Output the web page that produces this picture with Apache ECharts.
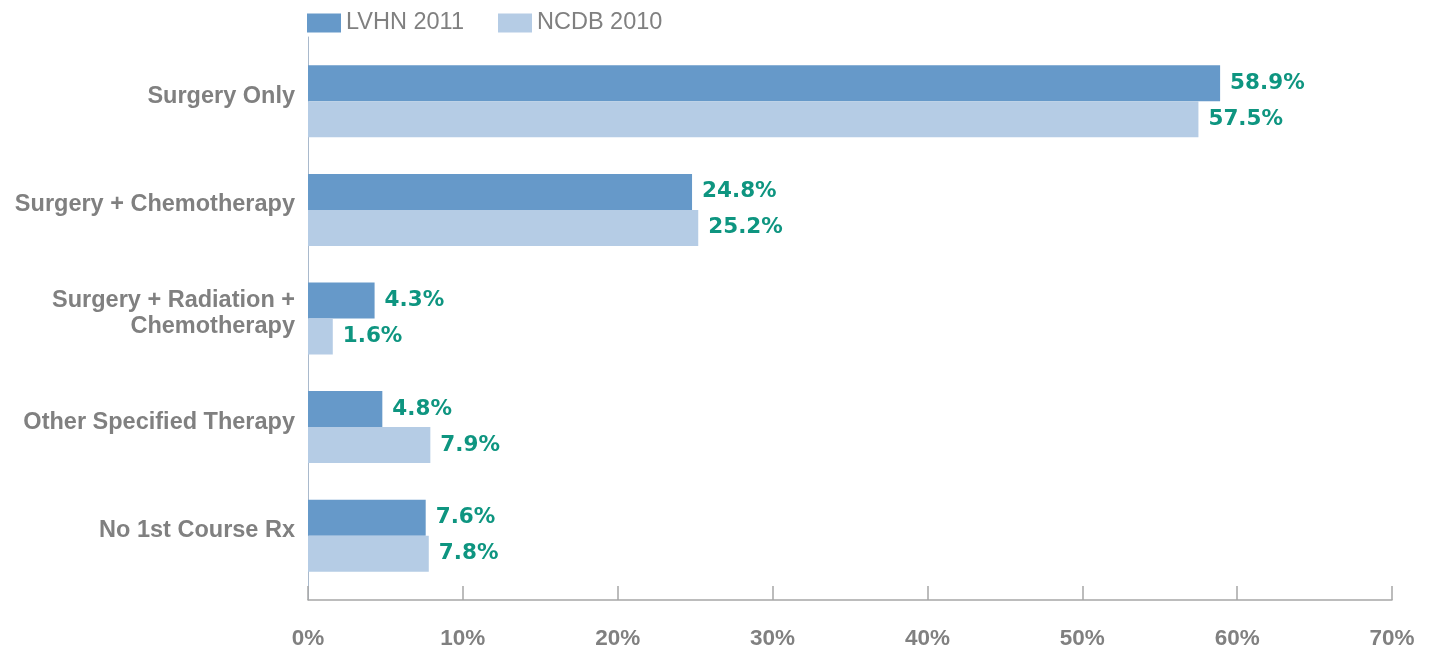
<!DOCTYPE html>
<html><head><meta charset="utf-8">
<script src="https://cdn.jsdelivr.net/npm/echarts@6/dist/echarts.min.js"></script>
<style>html,body{margin:0;padding:0;background:#fff}#c{width:1430px;height:651px}</style>
</head><body><div id="c"></div>
<script>
const categories = ['Surgery Only', 'Surgery + Chemotherapy', 'Surgery + Radiation +\nChemotherapy', 'Other Specified Therapy', 'No 1st Course Rx'];
const lvhn2011 = [58.9, 24.8, 4.3, 4.8, 7.6];
const ncdb2010 = [57.5, 25.2, 1.6, 7.9, 7.8];
const xTicks = [0, 10, 20, 30, 40, 50, 60, 70];

const FONT = '"Liberation Sans", Arial, sans-serif';
const chart = echarts.init(document.getElementById('c'));
const labelStyle = {
  show: true, position: 'right', distance: 10,
  formatter: p => p.value.toFixed(1) + '%',
  color: '#0e9580', fontFamily: '"DejaVu Sans", sans-serif', fontWeight: 'bold', fontSize: 21.5
};
chart.setOption({
  animation: false,
  legend: {
    left: 307, top: 11, padding: 0, itemWidth: 34, itemHeight: 19, itemGap: 34,
    icon: 'rect',
    textStyle: { color: '#808080', fontFamily: FONT, fontSize: 23.5 },
    data: ['LVHN 2011', 'NCDB 2010']
  },
  grid: [
    { left: 308, width: 1084, top: 47, height: 543 },
    { left: 308, width: 1084, top: 37, height: 563 },
    { left: 308, width: 1084, top: 42, height: 543 }
  ],
  xAxis: [
    {
      gridIndex: 0, type: 'value', min: xTicks[0], max: xTicks[xTicks.length - 1], interval: 10,
      position: 'bottom', offset: 10,
      axisLine: { show: true, lineStyle: { color: '#a6a6a6', width: 1.5 } },
      axisTick: { show: true, inside: true, length: 14, lineStyle: { color: '#a6a6a6', width: 1.5 } },
      splitLine: { show: false },
      axisLabel: { margin: 27, formatter: v => v + '%', color: '#808080', fontFamily: FONT, fontWeight: 'bold', fontSize: 22.5 }
    },
    { gridIndex: 1, type: 'value', min: 0, max: 1, show: false },
    { gridIndex: 2, type: 'value', min: 0, max: 1, show: false }
  ],
  yAxis: [
    {
      gridIndex: 0, type: 'category', data: categories, inverse: true,
      axisLine: { show: false }, axisTick: { show: false }, axisLabel: { show: false }
    },
    {
      gridIndex: 1, type: 'value', min: 0, max: 1,
      axisLine: { show: true, lineStyle: { color: '#a9b9cc', width: 1 } },
      axisTick: { show: false }, axisLabel: { show: false }, splitLine: { show: false }
    },
    {
      gridIndex: 2, type: 'category', data: categories, inverse: true,
      axisLine: { show: false }, axisTick: { show: false },
      axisLabel: { margin: 13, color: '#808080', fontFamily: FONT, fontWeight: 'bold', fontSize: 23.5, lineHeight: 26, align: 'right' }
    }
  ],
  series: [
    { name: 'LVHN 2011', type: 'bar', data: lvhn2011, barWidth: 36, barGap: '0%',
      itemStyle: { color: '#6699c9' }, label: labelStyle, xAxisIndex: 0, yAxisIndex: 0 },
    { name: 'NCDB 2010', type: 'bar', data: ncdb2010, barWidth: 36, barGap: '0%',
      itemStyle: { color: '#b5cce5' }, label: labelStyle, xAxisIndex: 0, yAxisIndex: 0 }
  ]
});
</script></body></html>
